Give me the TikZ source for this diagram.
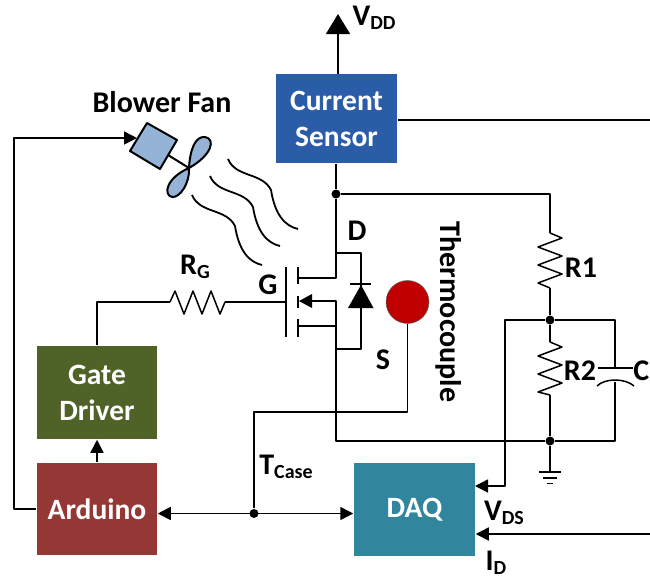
\documentclass[tikz,border=0pt]{standalone}
\usepackage{fontspec}
\setmainfont{Carlito}
\usepackage{xcolor}
\usetikzlibrary{calc,arrows.meta}
\definecolor{sensorblue}{HTML}{2A5CA8}
\definecolor{drivergreen}{HTML}{4F6228}
\definecolor{arduinored}{HTML}{953735}
\definecolor{daqteal}{HTML}{31859C}
\definecolor{fanblue}{HTML}{95B3D7}
\definecolor{tcred}{HTML}{C00000}
\newcommand{\subtext}[2]{#1\raisebox{-4pt}{\fontsize{20}{20}\selectfont #2}}

\begin{document}
\begin{tikzpicture}[x=1pt,y=-1pt,line width=1.5pt,line join=round,
                    >={Triangle[length=13pt,width=13pt]},
                    block node/.style={draw=none,align=center,text=white,font=\bfseries\fontsize{29.5}{36}\selectfont,inner sep=0pt},
                    label node/.style={font=\bfseries\fontsize{30}{30}\selectfont,inner sep=0pt},
                    dot node/.style={circle,fill=black,inner sep=0pt,minimum size=9pt},
                    thick wire/.style={line width=2.6pt}]
\useasboundingbox (0,0) rectangle (650,579);

% blocks
\node [block node,fill=sensorblue,minimum width=121pt,minimum height=89pt] (Sensor) at (336.5,118.5) {Current\\Sensor};
\node [block node,fill=drivergreen,minimum width=120pt,minimum height=93pt] (Driver) at (97,392.5) {Gate\\Driver};
\node [block node,fill=arduinored,minimum width=120pt,minimum height=92pt] (Arduino) at (97,509) {Arduino};
\node [block node,fill=daqteal,minimum width=121pt,minimum height=93pt] (DAQ) at (414.5,509.5) {DAQ};
\node [circle,draw=black!60,line width=0.5pt,fill=tcred,minimum size=43pt,inner sep=0pt] (Thermo) at (407.5,302) {};

% junctions
\node [dot node] (DrainDot) at (336,194) {};
\node [dot node] (MidDot) at (550,320) {};
\node [dot node] (GndDot) at (550,441) {};
\node [dot node] (CaseDot) at (254,513.5) {};
\coordinate (R1Top) at (550,233);
\coordinate (R1Bot) at (550,288);
\coordinate (R2Top) at (550,342);
\coordinate (R2Bot) at (550,395);
\coordinate (RGLeft) at (170,302);
\coordinate (RGRight) at (225,302);
\coordinate (CapTop) at (615,368);
\coordinate (CapBot) at (615,382);
\coordinate (Vdd) at (338,14);
\coordinate (SensorOut) at (650,120);
\coordinate (IdIn) at (650,534);
\coordinate (GndEnd) at (550,472);
\coordinate (FanIn) at (137,138);
\coordinate (DrainTop) at (336,230);
\coordinate (SourceBot) at (336,373);
\coordinate (GateEnd) at (286,302);

% wires
\draw[-{Triangle[length=20pt,width=24pt]}] (338,74) -- (Vdd);
\draw (Sensor.south -| DrainDot) -- (DrainDot) -- (DrainTop);
\draw (DrainDot) -| (R1Top);
\draw (R1Bot) -- (MidDot) -- (R2Top);
\draw (R2Bot) -- (GndDot) -- (GndEnd);
\draw (SensorOut) -- (SensorOut -| Sensor.east);
\draw (MidDot) -| (CapTop);
\draw (CapBot) |- (GndDot);
\draw (GndDot) -| (SourceBot);
\draw[->] (MidDot) -| (505,486) -- (475,486);
\draw[->] (IdIn) -- (IdIn -| DAQ.east);
\draw (Thermo) -- (407.5,412) -| (CaseDot);
\draw[<->] (Arduino.east |- CaseDot) -- (DAQ.west |- CaseDot);
\draw[->] (Arduino.north) -- (Driver.south);
\draw (Driver.north) |- (RGLeft);
\draw (RGRight) -- (GateEnd);
\draw[->] (Arduino.west) -| (14,138) -- (FanIn);

% resistors
\draw (R1Top) -- ++(12,5) -- ++(-24,9) -- ++(24,9) -- ++(-24,9) -- ++(24,9) -- ++(-24,9) -- (R1Bot);
\draw (R2Top) -- ++(12,5) -- ++(-24,9) -- ++(24,9) -- ++(-24,9) -- ++(24,9) -- ++(-24,9) -- (R2Bot);
\draw (RGLeft) -- ++(5,-11) -- ++(9,23) -- ++(9,-23) -- ++(9,23) -- ++(9,-23) -- ++(9,23) -- (RGRight);

% capacitor
\draw[thick wire] (CapTop) -- ++(0,-26);
\draw (598,368) -- (633,368);
\draw (597,386) .. controls (605,378) and (625,378) .. (634,386);
\draw[thick wire] (CapBot) -- ++(0,30);

% ground
\draw[line width=1.8pt] (539,472) -- (561,472) (543,478) -- (557,478) (547,483.5) -- (553,483.5);

% mosfet
\draw[thick wire] (286,267) -- (286,337);
\foreach \ya/\yb in {267/284,296/308,319/337}
   \draw[thick wire] (298,\ya) -- (298,\yb);
\draw[thick wire] (336,230) -- (336,278) -- (298,278);
\draw[thick wire] (336,326) -- (298,326);
\draw[thick wire] (SourceBot) -- (336,301) -- (310,301);
\fill (299,301) -- (312,294) -- (312,308) -- cycle;
\draw[thick wire] (336,253) -- (361,253) -- (361,349) -- (336,349);
\fill (361,285) -- (373.5,308) -- (348,308) -- cycle;
\draw[thick wire] (350,284) -- (371,284);

% fan
\draw[line width=2pt] (168,155) -- (189,168);
\draw[line width=2pt,fill=fanblue] (147,123) -- (177,140) -- (160,169) -- (130,151) -- cycle;
\draw[line width=2pt,fill=fanblue] (189,168) .. controls (190,150) and (195,136) .. (205,137) .. controls (216,139) and (212,155) .. (189,168)
   .. controls (190,183) and (180,198) .. (172,197) .. controls (163,195) and (166,178) .. (189,168) -- cycle;

% air flow
\foreach \dx/\dy in {0/0,-18/17,-36/36}
   \draw[shift={(\dx,\dy)},line width=1.8pt] (228,159) .. controls (236,178) and (262,172) .. (271,190) .. controls (275,215) and (285,226) .. (298,229);

% labels
\node[label node] (VddLabel) at (374,18) {\subtext{V}{DD}};
\node[label node] (FanLabel) at (162,102) {Blower Fan};
\node[label node] (DLabel) at (357,231) {D};
\node[label node] (GLabel) at (268,285) {G};
\node[label node] (SLabel) at (383,360) {S};
\node[label node] (RGLabel) at (195,267) {\subtext{R}{G}};
\node[label node] (R1Label) at (581,268) {R1};
\node[label node] (R2Label) at (580,371) {R2};
\node[label node,anchor=east] (CLabel) at (650,371) {C};
\node[label node] (TLabel) at (286,467) {\subtext{T}{Case}};
\node[label node] (VdsLabel) at (504,513) {\subtext{V}{DS}};
\node[label node] (IdLabel) at (496,563) {\subtext{I}{D}};
\node[label node,rotate=-90] (ThermoLabel) at (449,312) {Thermocouple};
\end{tikzpicture}
\end{document}
